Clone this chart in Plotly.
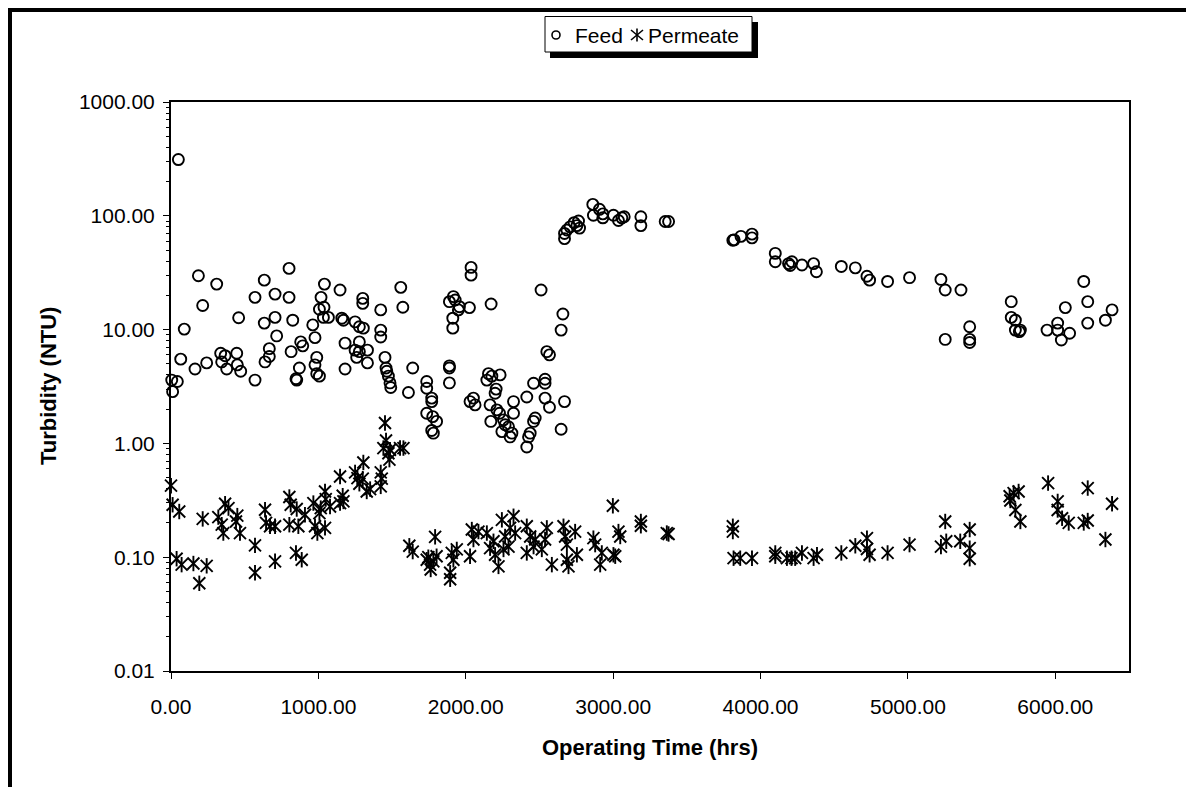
import plotly.graph_objects as go

# Feed turbidity (NTU) versus operating time (hrs)
feed_hours = [
    5, 43, 11, 66, 90, 50, 163, 186, 215, 242, 310, 337, 367, 344, 378, 446, 450, 473, 459, 570,
    570, 633, 638, 667, 667, 633, 706, 706, 717, 801, 801, 826, 815, 848, 853, 871, 880, 894, 962, 977,
    989, 977, 989, 1007, 1018, 1007, 1038, 1034, 1068, 1041, 1147, 1159, 1170, 1181, 1181, 1249, 1278, 1305, 1249, 1278,
    1278, 1260, 1333, 1333, 1301, 1301, 1423, 1423, 1423, 1559, 1573, 1452, 1459, 1464, 1475, 1486, 1491, 1640, 1611, 1735,
    1735, 1769, 1769, 1735, 1776, 1769, 1780, 1802,
    2036, 2036, 1889, 1916, 1928, 1957, 2025, 1912, 1912, 1950, 2172, 2511, 2659, 2647, 2550, 2568, 1889, 1889, 1889, 2052,
    2063, 2029, 2154, 2177, 2233, 2143, 2206, 2199, 2165, 2211, 2229, 2170, 2256, 2267, 2245, 2290, 2313, 2324, 2324, 2301,
    2414, 2460, 2538, 2538, 2568, 2670, 2647, 2471, 2460, 2437, 2426, 2414, 2538,
    2670, 2670, 2686, 2708, 2735, 2765, 2772, 2754, 2862, 2866, 2907, 2930, 2930, 3002, 3036, 3059, 3075, 3188, 3188, 3353,
    3376,
    3812, 3821, 3867, 3942, 3942, 4100, 4100, 4190, 4213, 4201, 4281, 4360, 4379, 4548, 4643, 4722, 4740, 4862, 5011, 5224,
    5253, 5360, 5253, 5419, 5419, 5419, 5701, 5701, 5729, 5729, 5756, 5763,
    5944, 6016, 6016, 6041, 6068, 6097, 6193, 6220, 6220, 6340, 6385,
]
feed_ntu = [
    3.6, 3.5, 2.85, 5.5, 10.1, 312, 4.5, 29.7, 16.3, 5.1, 25.1, 6.2, 5.9, 5.2, 4.5, 6.2, 4.9, 4.3, 12.7, 3.6,
    19.2, 11.4, 5.2, 5.8, 6.8, 27.2, 20.5, 12.8, 8.8, 34.5, 19.2, 12.1, 6.4, 3.7, 3.6, 4.6, 7.8, 7.2, 11.0, 8.5,
    5.7, 4.9, 4.1, 3.9, 19.2, 15.1, 15.7, 12.8, 12.8, 25.1, 22.3, 12.6, 12.1, 7.6, 4.5, 11.7, 10.6, 10.3, 6.6, 7.8,
    6.4, 5.7, 6.6, 5.1, 18.8, 17.0, 14.9, 9.9, 8.6, 23.5, 15.7, 5.7, 4.6, 4.3, 3.9, 3.4, 3.1, 4.6, 2.8, 3.5,
    3.05, 2.5, 2.33, 1.84, 1.72, 1.30, 1.23, 1.56,
    35.2, 30.1, 17.6, 19.5, 18.2, 15.9, 15.6, 12.6, 10.3, 14.9, 16.8, 22.3, 13.7, 9.9, 6.4, 6.0, 4.8, 4.6, 3.4, 2.5,
    2.18, 2.33, 4.1, 3.9, 4.0, 3.6, 3.0, 2.76, 2.18, 1.97, 1.84, 1.56, 1.61, 1.46, 1.27, 1.4, 1.23, 1.84, 2.33, 1.14,
    2.56, 3.38, 3.66, 2.5, 2.08, 2.33, 1.33, 1.67, 1.56, 1.23, 1.14, 0.93, 3.38,
    63, 70, 75, 80, 87, 90, 78, 82, 126, 101, 114, 104, 96, 101, 91, 96, 98, 98, 82, 89,
    89,
    61, 61.5, 66, 69, 64, 46.8, 39.5, 38, 39.5, 36.6, 37, 38, 32.2, 35.9, 34.9, 29.4, 27.2, 26.5, 28.6, 27.6,
    22.3, 22.3, 8.2, 10.6, 8.2, 7.7, 17.6, 12.8, 12.1, 9.9, 9.6, 9.9,
    9.9, 11.4, 9.9, 8.1, 15.6, 9.3, 26.5, 17.6, 11.4, 12.1, 14.9,
]

# Permeate turbidity (NTU) versus operating time (hrs)
permeate_hours = [
    0, 11, 56, 215, 38, 72, 152, 242, 192, 321, 367, 390, 355, 344, 450, 468, 441, 570, 570, 638,
    645, 672, 706, 706, 803, 812, 853, 803, 848, 887, 864, 909, 977, 966, 1007, 1016, 1045, 1050, 1045, 993,
    1079, 1147, 1165, 1170, 1147, 1249, 1265, 1278, 1305, 1301, 1328, 1351, 1423, 1423, 1430, 1452, 1441, 1459, 1475, 1482,
    1486, 1554, 1577, 1617, 1640, 1792, 1735, 1758, 1780, 1762, 1802, 1746,
    1894, 1894, 1905, 1939, 1916, 2029, 2041, 2052, 2086, 2143, 2165, 2199, 2222, 2188, 2245, 2324, 2301, 2267, 2290, 2335,
    2256, 2414, 2437, 2471, 2414, 2460, 2550, 2538, 2584, 2516, 2663, 2674, 2686, 2697, 2686, 2754, 2742, 2866, 2878, 2912,
    2923, 3002, 3036, 3048, 3014, 2998, 3188, 3188, 3364, 3376,
    3812, 3812, 3817, 3862, 3942, 4100, 4100, 4179, 4210, 4235, 4281, 4360, 4383, 4548, 4643, 4722, 4722, 4740, 4862, 5011,
    5224, 5253, 5260, 5355, 5419, 5419, 5419, 5690, 5717, 5751, 5729, 5763, 5695,
    5951, 6016, 6016, 6046, 6091, 6193, 6220, 6220, 6340, 6385,
]
permeate_ntu = [
    0.425, 0.289, 0.252, 0.217, 0.097, 0.086, 0.088, 0.084, 0.059, 0.225, 0.295, 0.27, 0.163, 0.193, 0.232, 0.163, 0.206, 0.127, 0.073, 0.261,
    0.2, 0.187, 0.187, 0.092, 0.338, 0.289, 0.265, 0.193, 0.109, 0.095, 0.187, 0.236, 0.187, 0.299, 0.244, 0.27, 0.378, 0.324, 0.181, 0.163,
    0.279, 0.512, 0.347, 0.309, 0.299, 0.556, 0.496, 0.442, 0.68, 0.49, 0.378, 0.397, 0.556, 0.419, 0.49, 1.51, 0.91, 1.06, 0.82, 0.72,
    0.88, 0.91, 0.91, 0.126, 0.112, 0.151, 0.095, 0.086, 0.092, 0.078, 0.102, 0.1,
    0.064, 0.073, 0.109, 0.117, 0.095, 0.102, 0.175, 0.143, 0.168, 0.163, 0.12, 0.105, 0.083, 0.138, 0.213, 0.229, 0.181, 0.152, 0.124, 0.163,
    0.117, 0.187, 0.152, 0.143, 0.109, 0.124, 0.181, 0.143, 0.086, 0.117, 0.187, 0.152, 0.129, 0.083, 0.095, 0.105, 0.168, 0.147, 0.129, 0.086,
    0.109, 0.105, 0.168, 0.152, 0.102, 0.283, 0.189, 0.206, 0.163, 0.16,
    0.187, 0.168, 0.098, 0.098, 0.098, 0.109, 0.102, 0.098, 0.098, 0.098, 0.109, 0.098, 0.105, 0.109, 0.126, 0.147, 0.118, 0.105, 0.109, 0.129,
    0.124, 0.206, 0.138, 0.138, 0.175, 0.12, 0.097, 0.343, 0.366, 0.378, 0.26, 0.206, 0.315,
    0.448, 0.309, 0.26, 0.22, 0.2, 0.2, 0.21, 0.405, 0.143, 0.295,
]

x_ticks = [0, 1000, 2000, 3000, 4000, 5000, 6000]

FONT = "Liberation Sans, Arial, sans-serif"
W, H = 1186, 787
ML, MR, MT, MB = 171, 57, 102, 116
PW, PH = W - ML - MR, H - MT - MB


def xp(px):
    """pixel column -> paper x"""
    return (px - ML) / PW


def yp(py):
    """pixel row -> paper y"""
    return (H - MB - py) / PH


fig = go.Figure()

fig.add_trace(go.Scatter(
    x=feed_hours, y=feed_ntu, mode="markers", name="Feed",
    marker=dict(symbol="circle-open", size=11, color="black", line=dict(width=1.9)),
    cliponaxis=False,
))
# star marker: diagonal cross plus a vertical stroke
fig.add_trace(go.Scatter(
    x=permeate_hours, y=permeate_ntu, mode="markers", name="Permeate",
    marker=dict(symbol="x-thin-open", size=12, color="black", line=dict(width=1.9)),
    cliponaxis=False,
))
fig.add_trace(go.Scatter(
    x=permeate_hours, y=permeate_ntu, mode="markers", name="Permeate", showlegend=False,
    marker=dict(symbol="line-ns-open", size=11, color="black", line=dict(width=1.9)),
    cliponaxis=False,
))

shapes = []
# chart frame edges (top and left)
shapes.append(dict(type="line", xref="paper", yref="paper", x0=xp(8), x1=xp(W + 5), y0=yp(10), y1=yp(10),
                   line=dict(color="black", width=4)))
shapes.append(dict(type="line", xref="paper", yref="paper", x0=xp(10), x1=xp(10), y0=yp(8), y1=yp(H + 5),
                   line=dict(color="black", width=4)))

# legend box with drop shadow
shapes.append(dict(type="rect", xref="paper", yref="paper", x0=xp(550), x1=xp(758), y0=yp(58), y1=yp(22),
                   fillcolor="black", line=dict(width=0)))
shapes.append(dict(type="rect", xref="paper", yref="paper", x0=xp(545), x1=xp(752), y0=yp(52), y1=yp(16.5),
                   fillcolor="white", line=dict(color="black", width=1)))
# legend symbols
shapes.append(dict(type="circle", xref="paper", yref="paper", xsizemode="pixel", ysizemode="pixel",
                   xanchor=xp(556), yanchor=yp(35), x0=-4, x1=4, y0=-4, y1=4,
                   line=dict(color="black", width=1.6)))
sx, sy = xp(637), yp(35)
for dx0, dy0, dx1, dy1 in [(-6, -5, 6, 5), (-6, 5, 6, -5), (0, -6.5, 0, 6.5)]:
    shapes.append(dict(type="line", xref="paper", yref="paper", xsizemode="pixel", ysizemode="pixel",
                       xanchor=sx, yanchor=sy, x0=dx0, x1=dx1, y0=dy0, y1=dy1,
                       line=dict(color="black", width=1.6)))

annotations = [
    dict(text="Feed", xref="paper", yref="paper", x=xp(573), y=yp(35), xanchor="left", yanchor="middle",
         showarrow=False, font=dict(family=FONT, size=21, color="black")),
    dict(text="Permeate", xref="paper", yref="paper", x=xp(646), y=yp(35), xanchor="left", yanchor="middle",
         showarrow=False, font=dict(family=FONT, size=21, color="black")),
    dict(text="Operating Time (hrs)", xref="paper", yref="paper", x=0.5, y=yp(747), xanchor="center",
         yanchor="middle", showarrow=False, font=dict(family=FONT, size=22, color="black", weight="bold")),
    dict(text="Turbidity (NTU)", xref="paper", yref="paper", x=xp(48), y=yp(386), xanchor="center",
         yanchor="middle", textangle=-90, showarrow=False,
         font=dict(family=FONT, size=22, color="black", weight="bold")),
]

fig.update_layout(
    width=W, height=H,
    margin=dict(l=ML, r=MR, t=MT, b=MB, pad=0),
    paper_bgcolor="white", plot_bgcolor="white",
    showlegend=False,
    font=dict(family=FONT, size=21, color="black"),
    shapes=shapes,
    annotations=annotations,
    xaxis=dict(
        range=[0, 6500], tickvals=x_ticks, tickformat=".2f",
        ticks="outside", ticklen=6, tickwidth=1, tickcolor="black",
        ticklabelstandoff=10,
        showline=True, linewidth=2, linecolor="black", mirror=True,
        showgrid=False, zeroline=False,
        tickfont=dict(family=FONT, size=21, color="black"),
    ),
    yaxis=dict(
        type="log", range=[-2, 3], dtick=1, tickformat=".2f",
        ticks="outside", ticklen=6, tickwidth=1, tickcolor="black",
        ticklabelstandoff=4,
        minor=dict(ticks="outside", ticklen=3, tickwidth=1, tickcolor="black", dtick="D1", showgrid=False),
        showline=True, linewidth=2, linecolor="black", mirror=True,
        showgrid=False, zeroline=False,
        tickfont=dict(family=FONT, size=21, color="black"),
    ),
)

fig.write_html("out.html")
